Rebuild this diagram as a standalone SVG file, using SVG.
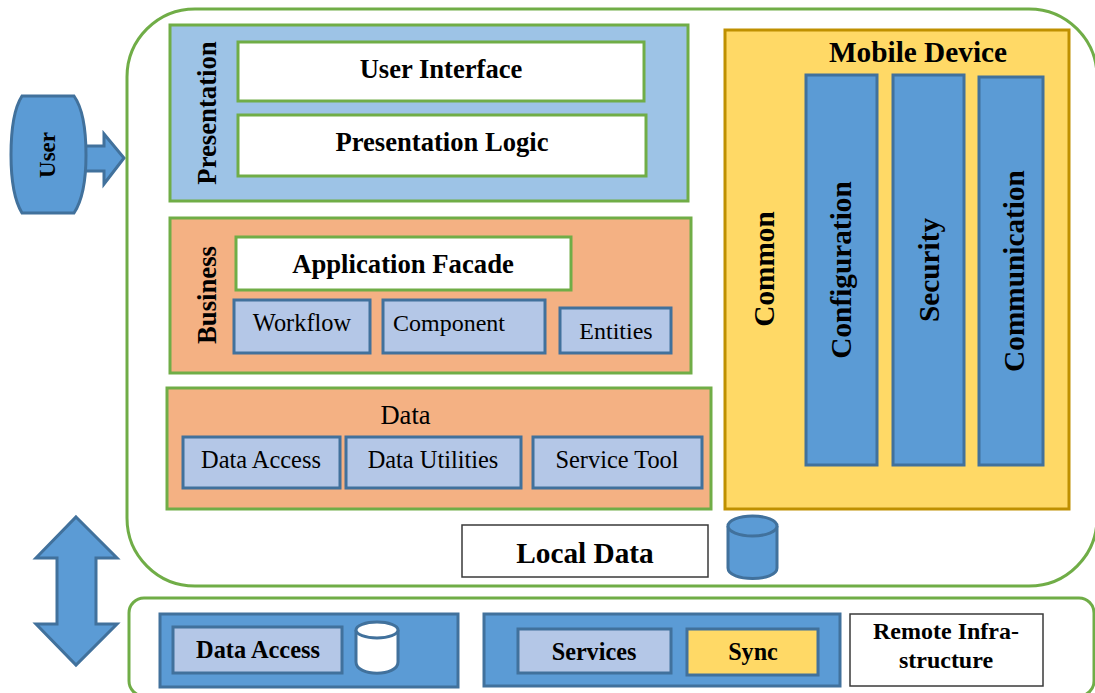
<svg xmlns="http://www.w3.org/2000/svg" width="1095" height="693" viewBox="0 0 1095 693">
<style>
text{font-family:"Liberation Serif","Times New Roman",serif;fill:#000;text-anchor:middle}
.b{font-weight:bold}
.g{stroke:#70ad47;stroke-width:3}
.bl{stroke:#41719c;stroke-width:3}
.k{stroke:#3a3a3a;stroke-width:1.5;fill:#fff}
.lb{fill:#b4c7e7}
.m{fill:#5b9bd5}
.o{fill:#f4b183}
.w{fill:#fff}
.y{fill:#ffd966}
</style>
<rect width="1095" height="693" fill="#fff"/>
<g id="connectors">
<path class="m bl" d="M85 146H104V134L124 158L104 184V171H85Z"/>
<path class="m bl" d="M76 517L117 558H96V624H117L76 665L36 624H57V558H36Z"/>
</g>
<g id="user"><path class="m bl" d="M22 96H74C84 110 86 135 86 155C86 175 84 198 74 213H22C13 198 11 175 11 155C11 135 13 110 22 96Z"/><text class="b" transform="translate(55 155) rotate(-90)" font-size="23">User</text></g>
<g id="main-frame"><rect x="127" y="9" width="970" height="577" rx="68" fill="#fff" class="g"/></g>
<g id="presentation"><rect x="170" y="25" width="518" height="176" fill="#9dc3e6" class="g"/><text class="b" transform="translate(216 113) rotate(-90)" font-size="26.700">Presentation</text></g>
<g id="user-interface"><rect x="238" y="42" width="406" height="59" class="w g"/><text class="b" x="441" y="78" font-size="26.600">User Interface</text></g>
<g id="presentation-logic"><rect x="238" y="115" width="408" height="61" class="w g"/><text class="b" x="442" y="151" font-size="26.600">Presentation Logic</text></g>
<g id="business"><rect x="170" y="218" width="521" height="155" class="o g"/><text class="b" transform="translate(216 295) rotate(-90)" font-size="26.700">Business</text></g>
<g id="application-facade"><rect x="236" y="237" width="335" height="53" class="w g"/><text class="b" x="403" y="273" font-size="26.700">Application Facade</text></g>
<g id="workflow"><rect x="234" y="300" width="136" height="53" class="lb bl"/><text x="302" y="331" font-size="24.400">Workflow</text></g>
<g id="component"><rect x="383" y="300" width="162" height="53" class="lb bl"/><text x="449" y="331" font-size="24">Component</text></g>
<g id="entities"><rect x="560" y="308" width="111" height="45" class="lb bl"/><text x="616" y="339" font-size="24">Entities</text></g>
<g id="data"><rect x="167" y="388" width="544" height="121" class="o g"/><text x="405.500" y="424" font-size="26.500">Data</text></g>
<g id="data-access"><rect x="183" y="437" width="157" height="51" class="lb bl"/><text x="261" y="468" font-size="24.400">Data Access</text></g>
<g id="data-utilities"><rect x="346" y="437" width="175" height="51" class="lb bl"/><text x="433" y="468" font-size="24.400">Data Utilities</text></g>
<g id="service-tool"><rect x="533" y="437" width="169" height="51" class="lb bl"/><text x="617" y="468" font-size="24.400">Service Tool</text></g>
<g id="mobile-device"><rect x="725" y="30" width="344" height="479" fill="#ffd966" stroke="#bf9000" stroke-width="3"/><text class="b" x="918" y="62" font-size="29.300">Mobile Device</text></g>
<g id="common"><text class="b" transform="translate(774 269) rotate(-90)" font-size="29.300">Common</text></g>
<g id="configuration"><rect x="806" y="75" width="71" height="390" class="m bl"/><text class="b" transform="translate(851 270) rotate(-90)" font-size="29.300">Configuration</text></g>
<g id="security"><rect x="893" y="75" width="71" height="390" class="m bl"/><text class="b" transform="translate(939 270) rotate(-90)" font-size="29.300">Security</text></g>
<g id="communication"><rect x="979" y="77" width="64" height="388" class="m bl"/><text class="b" transform="translate(1024 271) rotate(-90)" font-size="29.300">Communication</text></g>
<g id="local-data"><rect x="462" y="525" width="246" height="52" class="k"/><text class="b" x="585" y="563" font-size="29.300">Local Data</text></g>
<g id="local-db"><path class="m bl" d="M728 526V568C728 582 777 582 777 568V526"/><ellipse cx="752.500" cy="526" rx="24.500" ry="10" class="m bl"/></g>
<g id="remote-frame"><rect x="129" y="598" width="965" height="98" rx="15" fill="#fff" class="g"/></g>
<g id="remote-data"><rect x="160" y="614" width="298" height="73" class="m bl"/></g>
<g id="remote-data-access"><rect x="173" y="627" width="169" height="46" class="lb bl"/><text class="b" x="258" y="658" font-size="24.400">Data Access</text></g>
<g id="remote-db"><path class="w bl" d="M356 630V662C356 677 398 677 398 662V630"/><ellipse cx="377" cy="630" rx="21" ry="8" class="w bl"/></g>
<g id="remote-services"><rect x="484" y="614" width="356" height="72" class="m bl"/></g>
<g id="services"><rect x="518" y="629" width="153" height="44" class="lb bl"/><text class="b" x="594" y="660" font-size="24.200">Services</text></g>
<g id="sync"><rect x="687" y="629" width="131" height="46" class="y bl"/><text class="b" x="753" y="660" font-size="24.200">Sync</text></g>
<g id="remote-infrastructure"><rect x="850" y="614" width="193" height="72" class="k"/><text class="b" x="946" y="639" font-size="24">Remote Infra-</text><text class="b" x="946" y="668" font-size="24">structure</text></g>
</svg>
